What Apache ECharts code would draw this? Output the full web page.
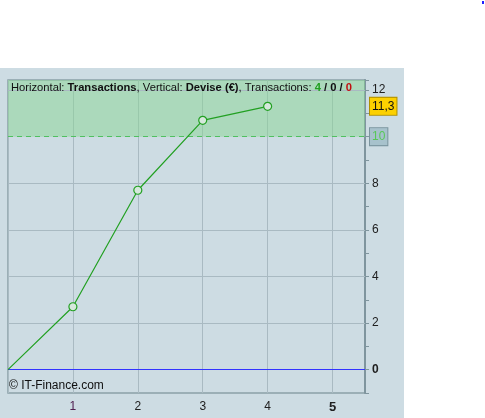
<!DOCTYPE html>
<html>
<head>
<meta charset="utf-8">
<script src="https://cdn.jsdelivr.net/npm/echarts@6/dist/echarts.min.js"></script>
<style>html,body{margin:0;padding:0;background:#fff;}#c{width:485px;height:418px;}</style>
</head>
<body>
<div id="c"></div>
<script>
const xValues = [0, 1, 2, 3, 4];
const yValues = [0, 2.7, 7.7, 10.7, 11.3];
const gridLevels = [2, 4, 6, 8, 12];
const yLabelValues = [0, 2, 4, 6, 8, 12];
const xLabelValues = [1, 2, 3, 4, 5];
const zeroLevel = 0;
const thresholdValue = 10;
const lastValue = 11.3;

const FONT = 'Liberation Sans, Arial, sans-serif';
const TS = 11.2;
const chart = echarts.init(document.getElementById('c'), null, {renderer: 'canvas'});

const option = {
  animation: false,
  backgroundColor: '#ffffff',
  title: {
    text: '{n|Horizontal: }{b|Transactions}{n|, Vertical: }{b|Devise (€)}{n|, Transactions: }{g|4}{b| / 0 / }{r|0}',
    left: 11, top: 82, padding: 0,
    textStyle: {
      fontFamily: FONT, fontSize: TS, fontWeight: 'normal',
      rich: {
        n: {fontFamily: FONT, fontSize: TS, fontWeight: 'normal', color: '#101010'},
        b: {fontFamily: FONT, fontSize: TS, fontWeight: 'bold', color: '#101010'},
        g: {fontFamily: FONT, fontSize: TS, fontWeight: 'bold', color: '#20a020'},
        r: {fontFamily: FONT, fontSize: TS, fontWeight: 'bold', color: '#c01010'}
      }
    }
  },
  graphic: [
    {type: 'rect', z: -10, shape: {x: 0, y: 68, width: 404, height: 350}, style: {fill: '#cddce3'}},
    {type: 'rect', z: 10, shape: {x: 482, y: 1, width: 2, height: 3}, style: {fill: '#2020ff'}},
    {type: 'text', z: 10, left: 9, top: 380, style: {text: '© IT-Finance.com', font: '12px ' + FONT, fill: '#101010'}}
  ],
  grid: {left: 8, top: 80, right: 120, bottom: 25, show: true, borderColor: '#8ba0a8', borderWidth: 1.5, backgroundColor: 'transparent'},
  xAxis: {
    type: 'value', min: 0, max: 5.5, interval: 1,
    axisLine: {show: false, onZero: false}, axisTick: {show: false},
    splitLine: {show: true, lineStyle: {color: '#a9bac2', width: 1}},
    axisLabel: {
      margin: 8,
      formatter: function (v) {
        if (xLabelValues.indexOf(v) < 0) return '';
        if (v === 5) return '{big|5}';
        if (v === 1) return '{p|1}';
        return '{n|' + v + '}';
      },
      rich: {
        n: {fontFamily: FONT, fontSize: 12, color: '#202020'},
        p: {fontFamily: FONT, fontSize: 12, color: '#502050'},
        big: {fontFamily: FONT, fontSize: 13, fontWeight: 'bold', color: '#202020'}
      }
    }
  },
  yAxis: {
    type: 'value', position: 'right', min: -1, max: 12.43, interval: 1,
    axisLine: {show: true, onZero: false, lineStyle: {color: '#7f959e', width: 2}},
    axisTick: {show: true, inside: false, length: 4, lineStyle: {color: '#7f959e'}},
    splitLine: {show: false},
    axisLabel: {
      margin: 7,
      formatter: function (v) {
        if (yLabelValues.indexOf(v) < 0) return '';
        if (v === 0) return '{z|0}';
        return '{n|' + v + '}';
      },
      rich: {
        n: {fontFamily: FONT, fontSize: 12, color: '#202020'},
        z: {fontFamily: FONT, fontSize: 12, fontWeight: 'bold', color: '#202020'}
      }
    }
  },
  series: [
    {
      type: 'line', name: 'grid', data: [], silent: true, z: 1,
      markLine: {
        silent: true, symbol: 'none', animation: false,
        label: {show: false},
        lineStyle: {color: '#a9bac2', type: 'solid', width: 1},
        data: gridLevels.map(v => ({yAxis: v}))
      },
      markArea: {
        silent: true,
        itemStyle: {color: 'rgba(137,214,147,0.5)'},
        data: [[{yAxis: thresholdValue}, {yAxis: 12.43}]]
      }
    },
    {
      type: 'line', name: 'zero', data: [], silent: true, z: 4,
      markLine: {
        silent: true, symbol: 'none', animation: false,
        label: {show: false},
        lineStyle: {color: '#3333ff', type: 'solid', width: 1, opacity: 1},
        emphasis: {disabled: true},
        data: [{yAxis: zeroLevel}]
      }
    },
    {
      type: 'line', name: 'levels', data: [], silent: true, z: 3,
      markLine: {
        silent: true, symbol: 'none', animation: false,
        data: [
          {yAxis: thresholdValue, lineStyle: {color: '#50c060', type: [5, 4], width: 1},
            label: {show: true, position: 'end', distance: 5, formatter: String(thresholdValue),
              fontFamily: FONT, fontSize: 12, color: '#58c858', backgroundColor: '#a7c2cc',
              borderColor: '#7a949e', borderWidth: 1, padding: [3, 2, 2, 2]}},
          {yAxis: lastValue, lineStyle: {color: 'rgba(0,0,0,0)', width: 0.1},
            label: {show: true, position: 'end', distance: 5, formatter: String(lastValue).replace('.', ','),
              fontFamily: FONT, fontSize: 12, color: '#101010',
              backgroundColor: '#fcd000',
              borderColor: '#b09000', borderWidth: 1, padding: [3, 2, 2, 2]}}
        ]
      }
    },
    {
      type: 'line', name: 'Devise',
      data: xValues.map((x, i) => [x, yValues[i]]),
      z: 5,
      lineStyle: {color: '#22a022', width: 1.2},
      symbol: 'circle', symbolSize: 8,
      itemStyle: {color: '#d6e8dc', borderColor: '#22a022', borderWidth: 1.2},
      showAllSymbol: true
    }
  ]
};
option.series[3].data[0] = {value: option.series[3].data[0], symbol: 'none'};
chart.setOption(option);
</script>
</body>
</html>
